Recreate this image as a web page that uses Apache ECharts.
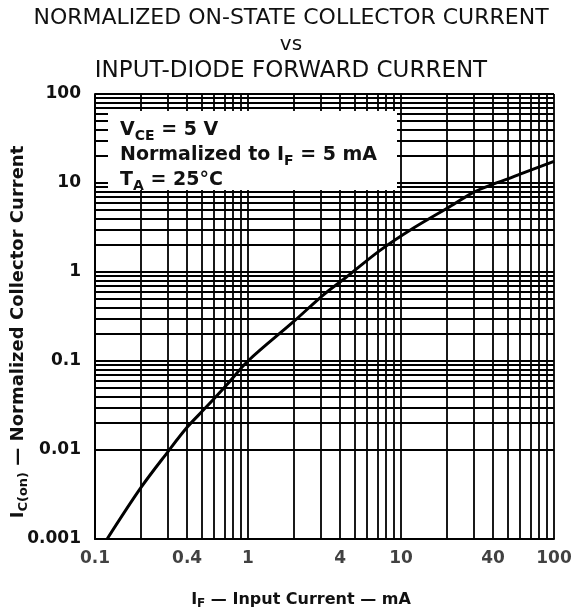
<!DOCTYPE html>
<html><head><meta charset="utf-8">
<script src="https://cdn.jsdelivr.net/npm/echarts@6/dist/echarts.min.js"></script>
<style>html,body{margin:0;padding:0;background:#fff}#c{width:582px;height:615px}</style>
</head><body><div id="c"></div>
<script>
// Curve: input forward current (mA) vs normalized on-state collector current
const xData = [0.12, 0.2, 0.3, 0.4, 0.52, 0.74, 1.0, 2.0, 3.1, 4.3, 7.3, 12, 20, 30, 40, 50, 60, 100];
const yData = [0.001, 0.0038, 0.0096, 0.018, 0.029, 0.056, 0.1, 0.28, 0.55, 0.85, 1.75, 3.1, 5.2, 7.9, 9.7, 11.1, 12.6, 17.5];
const xTickLabels = [0.1, 0.4, 1, 4, 10, 40, 100];
const yTickLabels = [0.001, 0.01, 0.1, 1, 10, 100];
const xDecades = [0.1, 1, 10];
const yDecades = [0.001, 0.01, 0.1, 1, 10];
const multipliers = [1, 2, 3, 4, 5, 6, 7, 8, 9];

function gridValues(decades, top) {
  const out = [];
  decades.forEach(d => multipliers.forEach(m => out.push(Number((d * m).toPrecision(3)))));
  out.push(top);
  return out;
}
const xGrid = gridValues(xDecades, 100);
const yGrid = gridValues(yDecades, 100);

const FONT = '"DejaVu Sans", "Liberation Sans", Arial, sans-serif';

const chart = echarts.init(document.getElementById('c'), null, {renderer: 'canvas'});
chart.setOption({
  backgroundColor: '#fff',
  animation: false,
  title: [
    {text: 'NORMALIZED ON-STATE COLLECTOR CURRENT', left: 'center', top: 6, padding: 0,
     textStyle: {fontFamily: FONT, fontWeight: 'normal', fontSize: 22, color: '#111', lineHeight: 24}},
    {text: 'vs', left: 'center', top: 33, padding: 0,
     textStyle: {fontFamily: FONT, fontWeight: 'normal', fontSize: 20, color: '#111', lineHeight: 24}},
    {text: 'INPUT-DIODE FORWARD CURRENT', left: 'center', top: 59, padding: 0,
     textStyle: {fontFamily: FONT, fontWeight: 'normal', fontSize: 23, color: '#111', lineHeight: 24}}
  ],
  grid: {left: 95, right: 28, top: 94, bottom: 76},
  xAxis: {
    type: 'log', logBase: 10, min: 0.1, max: 100,
    axisLine: {show: true, lineStyle: {color: '#000', width: 2}},
    axisTick: {show: false}, axisLabel: {show: false}, splitLine: {show: false}
  },
  yAxis: {
    type: 'log', logBase: 10, min: 0.001, max: 100,
    axisLine: {show: true, lineStyle: {color: '#000', width: 2}},
    axisTick: {show: false}, splitLine: {show: false},
    axisLabel: {
      margin: 14, fontFamily: FONT, fontWeight: 'bold', fontSize: 17, color: '#111',
      formatter: v => {
        let best = yTickLabels[0];
        yTickLabels.forEach(t => { if (Math.abs(Math.log10(t) - Math.log10(v)) < Math.abs(Math.log10(best) - Math.log10(v))) best = t; });
        return String(best);
      }
    }
  },
  series: [
    {
      type: 'line', name: 'grid', data: [], silent: true,
      markLine: {
        silent: true, z: 1, symbol: ['none', 'none'], animation: false,
        label: {show: false}, emphasis: {disabled: true},
        lineStyle: {color: '#000', width: 1.8, type: 'solid', opacity: 1},
        data: xGrid.map(v => ({xAxis: v})).concat(yGrid.map(v => ({yAxis: v})))
      }
    },
    {
      type: 'line', name: 'IC(on)', z: 3,
      data: xData.map((x, i) => [x, yData[i]]),
      showSymbol: false, smooth: 0.35, clip: true,
      lineStyle: {color: '#000', width: 3}
    },
    {
      type: 'scatter', name: 'xlabels', silent: true, symbolSize: 0,
      data: xTickLabels.map(v => [v, yTickLabels[0]]),
      label: {show: true, position: 'bottom', distance: 11, formatter: p => String(p.value[0]),
              fontFamily: FONT, fontWeight: 'bold', fontSize: 17, color: '#111'}
    }
  ],
  graphic: [
    {type: 'rect', z: 100, shape: {x: 108, y: 111, width: 289, height: 79}, style: {fill: '#fff'}},
    {type: 'text', z: 101, x: 120, y: 130, style: {
      text: '{m|V}{s|CE}{m| = 5 V}', textVerticalAlign: 'middle',
      rich: {m: {fontFamily: FONT, fontWeight: 'bold', fontSize: 19, lineHeight: 26, fill: '#111'},
             s: {fontFamily: FONT, fontWeight: 'bold', fontSize: 14, lineHeight: 14, verticalAlign: 'bottom', fill: '#111'}}}},
    {type: 'text', z: 101, x: 120, y: 155, style: {
      text: '{m|Normalized to I}{s|F}{m| = 5 mA}', textVerticalAlign: 'middle',
      rich: {m: {fontFamily: FONT, fontWeight: 'bold', fontSize: 19, lineHeight: 26, fill: '#111'},
             s: {fontFamily: FONT, fontWeight: 'bold', fontSize: 14, lineHeight: 14, verticalAlign: 'bottom', fill: '#111'}}}},
    {type: 'text', z: 101, x: 120, y: 180, style: {
      text: '{m|T}{s|A}{m| = 25°C}', textVerticalAlign: 'middle',
      rich: {m: {fontFamily: FONT, fontWeight: 'bold', fontSize: 19, lineHeight: 26, fill: '#111'},
             s: {fontFamily: FONT, fontWeight: 'bold', fontSize: 14, lineHeight: 14, verticalAlign: 'bottom', fill: '#111'}}}},
    {type: 'text', z: 101, x: 18, y: 332, rotation: Math.PI / 2, style: {
      text: '{m|I}{s|C(on)}{m| — Normalized Collector Current}', textAlign: 'center', textVerticalAlign: 'middle',
      rich: {m: {fontFamily: FONT, fontWeight: 'bold', fontSize: 18, lineHeight: 24, fill: '#111'},
             s: {fontFamily: FONT, fontWeight: 'bold', fontSize: 13, lineHeight: 13, verticalAlign: 'bottom', fill: '#111'}}}},
    {type: 'text', z: 101, x: 301, y: 600, style: {
      text: '{m|I}{s|F}{m| — Input Current — mA}', textAlign: 'center', textVerticalAlign: 'middle',
      rich: {m: {fontFamily: FONT, fontWeight: 'bold', fontSize: 16, lineHeight: 20, fill: '#111'},
             s: {fontFamily: FONT, fontWeight: 'bold', fontSize: 12, lineHeight: 12, verticalAlign: 'bottom', fill: '#111'}}}}
  ]
});
</script>
</body></html>
